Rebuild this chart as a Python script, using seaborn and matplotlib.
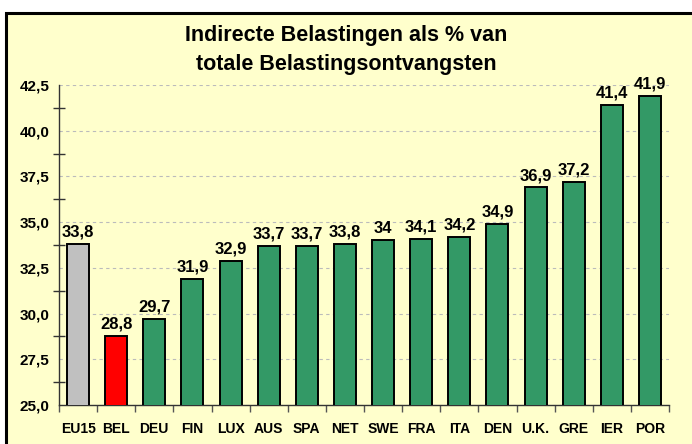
import matplotlib
matplotlib.use("Agg")
import matplotlib.pyplot as plt
import seaborn as sns
import pandas as pd
from matplotlib.patches import Rectangle
from matplotlib.ticker import MultipleLocator, FuncFormatter

categories = ["EU15", "BEL", "DEU", "FIN", "LUX", "AUS", "SPA", "NET", "SWE",
              "FRA", "ITA", "DEN", "U.K.", "GRE", "IER", "POR"]
values = [33.8, 28.8, 29.7, 31.9, 32.9, 33.7, 33.7, 33.8, 34.0,
          34.1, 34.2, 34.9, 36.9, 37.2, 41.4, 41.9]
value_labels = ["33,8", "28,8", "29,7", "31,9", "32,9", "33,7", "33,7", "33,8", "34",
                "34,1", "34,2", "34,9", "36,9", "37,2", "41,4", "41,9"]
title = "Indirecte Belastingen als % van\ntotale Belastingsontvangsten"

GREEN = "#339966"
colors = ["#C0C0C0", "#FF0000"] + [GREEN] * (len(categories) - 2)
BG = "#FFFFCC"

sns.set_style("white")
plt.rcParams["font.family"] = ["Liberation Sans", "DejaVu Sans"]
plt.rcParams["text.color"] = "black"
plt.rcParams["xtick.color"] = "black"
plt.rcParams["ytick.color"] = "black"

df = pd.DataFrame({"land": categories, "waarde": values})

fig = plt.figure(figsize=(6.92, 4.44), dpi=100)
fig.patch.set_facecolor("white")
frame = Rectangle((6 / 692, -0.01), 1.0, 1 - 13 / 444 + 0.01, transform=fig.transFigure,
                  facecolor=BG, edgecolor="black", linewidth=2.2, zorder=-10)
fig.patches.append(frame)

ax = fig.add_axes([59 / 692, 1 - 405 / 444, (669 - 59) / 692, (405 - 85) / 444])
ax.set_facecolor(BG)
ax.patch.set_alpha(0)

sns.barplot(data=df, x="land", y="waarde", hue="land", palette=colors, legend=False,
            saturation=1, width=0.58, edgecolor="black", linewidth=1.4, ax=ax, zorder=3)

ax.set_ylim(25, 42.5)
ax.set_xlim(-0.5, len(categories) - 0.5)
ax.yaxis.set_major_locator(MultipleLocator(2.5))
ax.yaxis.set_minor_locator(MultipleLocator(1.25))
ax.yaxis.set_major_formatter(FuncFormatter(lambda v, p: f"{v:.1f}".replace(".", ",")))
ax.grid(axis="y", which="major", linestyle=(0, (3, 3)), color="#BBBBBB", linewidth=0.8, zorder=0)
ax.set_axisbelow(True)

for s in ["top", "right"]:
    ax.spines[s].set_visible(False)
for s in ["left", "bottom"]:
    ax.spines[s].set_color("#333333")
    ax.spines[s].set_linewidth(1.0)

ax.tick_params(axis="y", which="major", direction="inout", length=10, width=1, color="#333333",
               labelsize=11, pad=2)
ax.tick_params(axis="y", which="minor", direction="inout", length=8, width=1, color="#333333",
               left=True)
for lbl in ax.get_yticklabels():
    lbl.set_fontweight("bold")

ax.set_xticks(range(len(categories)))
ax.set_xticklabels(categories, fontsize=10, fontweight="bold")
ax.tick_params(axis="x", which="major", length=0, pad=12)
ax.set_xticks([i - 0.5 for i in range(len(categories) + 1)], minor=True)
ax.tick_params(axis="x", which="minor", direction="out", length=5, width=1, color="#555555", bottom=True)

ax.set_xlabel("")
ax.set_ylabel("")

for cont in ax.containers:
    idx = [int(round(p.get_x() + p.get_width() / 2)) for p in cont.patches]
    ax.bar_label(cont, labels=[value_labels[i] for i in idx], padding=3,
                 fontsize=12, fontweight="bold", color="black")

fig.text(0.5, 1 - 50 / 444, title, ha="center", va="center", fontsize=15.5,
         fontweight="bold", linespacing=1.45, color="black")

fig.savefig("out.png", dpi=100, facecolor=fig.get_facecolor())
